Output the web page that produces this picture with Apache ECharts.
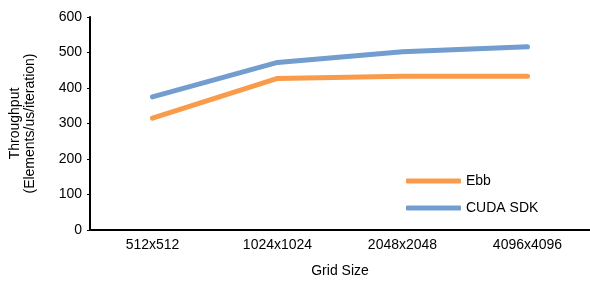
<!DOCTYPE html>
<html>
<head>
<meta charset="utf-8">
<script src="https://cdn.jsdelivr.net/npm/echarts@6/dist/echarts.min.js"></script>
<style>
  html, body { margin: 0; padding: 0; background: #fff; }
  #chart { width: 590px; height: 282px; }
</style>
</head>
<body>
<div id="chart"></div>
<script>
// 网格尺寸 / 吞吐量
var gridSizes = ['512x512', '1024x1024', '2048x2048', '4096x4096'];
var ebbData = [315, 427, 433, 433];
var cudaData = [375, 472, 502, 516];
var yTicks = [0, 100, 200, 300, 400, 500, 600];

function drawChart() {
  var myChart = echarts.init(document.getElementById('chart'));
  var fontFamily = 'Liberation Sans, Arial, sans-serif';
  var option = {
    animation: false,
    textStyle: { fontFamily: fontFamily },
    grid: {
      left: 90,
      right: 0,
      top: 17,
      bottom: 52,
      outerBoundsMode: 'none'
    },
    legend: {
      orient: 'vertical',
      left: 401,
      top: 169,
      icon: 'roundRect',
      itemWidth: 55,
      itemHeight: 5,
      itemGap: 13,
      textStyle: { color: '#000', fontSize: 14, fontFamily: fontFamily },
      data: ['Ebb', 'CUDA SDK']
    },
    xAxis: {
      type: 'category',
      data: gridSizes,
      boundaryGap: true,
      name: 'Grid Size',
      nameLocation: 'middle',
      nameGap: 34,
      nameTextStyle: { color: '#000', fontSize: 14 },
      axisLine: { lineStyle: { color: '#000', width: 2 } },
      axisTick: { show: false },
      axisLabel: { color: '#000', fontSize: 14, margin: 8 }
    },
    yAxis: {
      type: 'value',
      min: yTicks[0],
      max: yTicks[yTicks.length - 1],
      interval: 100,
      name: 'Throughput\n(Elements/us/iteration)',
      nameLocation: 'middle',
      nameGap: 52,
      nameRotate: 90,
      nameTextStyle: { color: '#000', fontSize: 14, lineHeight: 15 },
      axisLine: { show: true, lineStyle: { color: '#000', width: 2 } },
      axisTick: { show: true, length: 3, lineStyle: { color: '#000', width: 1 } },
      axisLabel: { color: '#000', fontSize: 14, margin: 8 },
      splitLine: { show: false }
    },
    series: [
      {
        name: 'Ebb',
        type: 'line',
        data: ebbData,
        symbol: 'none',
        color: '#f89b4a',
        lineStyle: { width: 5, cap: 'round', join: 'round' }
      },
      {
        name: 'CUDA SDK',
        type: 'line',
        data: cudaData,
        symbol: 'none',
        color: '#729dcf',
        lineStyle: { width: 5, cap: 'round', join: 'round' }
      }
    ]
  };
  myChart.setOption(option);
  window.addEventListener('resize', function () {
    myChart.resize();
  });
}
drawChart();
</script>
</body>
</html>
